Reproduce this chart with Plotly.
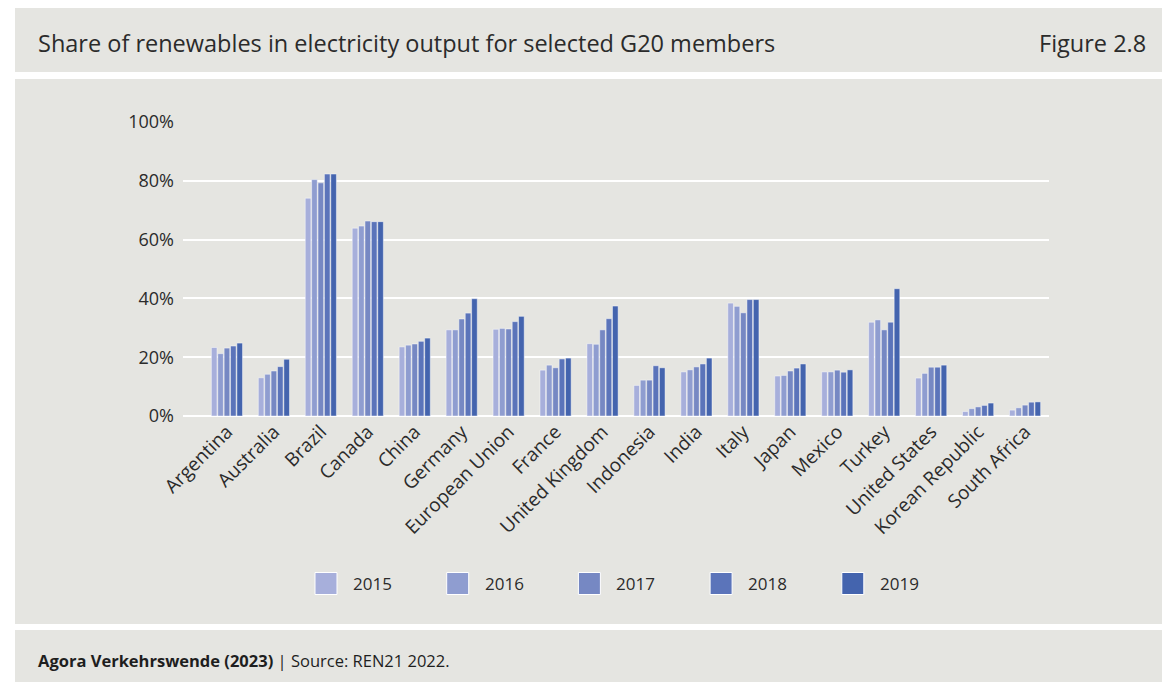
import plotly.graph_objects as go

W, H = 1162, 682

countries = ["Argentina", "Australia", "Brazil", "Canada", "China", "Germany",
             "European Union", "France", "United Kingdom", "Indonesia", "India",
             "Italy", "Japan", "Mexico", "Turkey", "United States",
             "Korean Republic", "South Africa"]

years = ["2015", "2016", "2017", "2018", "2019"]

share_2015 = [23.3, 13.0, 74.1, 63.9, 23.5, 29.3, 29.5, 15.6, 24.6, 10.4, 15.0, 38.4, 13.6, 15.0, 31.9, 12.9, 1.5, 2.0]
share_2016 = [21.2, 14.2, 80.4, 64.6, 24.1, 29.3, 29.8, 17.3, 24.4, 12.2, 15.7, 37.3, 13.8, 15.0, 32.7, 14.5, 2.5, 2.8]
share_2017 = [23.1, 15.3, 79.3, 66.3, 24.5, 33.0, 29.6, 16.4, 29.3, 12.2, 16.7, 35.1, 15.3, 15.6, 29.3, 16.6, 3.1, 3.7]
share_2018 = [23.8, 16.8, 82.3, 66.1, 25.4, 35.0, 32.1, 19.4, 33.1, 17.1, 17.7, 39.6, 16.3, 14.9, 31.9, 16.6, 3.6, 4.7]
share_2019 = [24.8, 19.3, 82.3, 66.1, 26.5, 39.9, 33.9, 19.7, 37.4, 16.4, 19.7, 39.6, 17.7, 15.7, 43.3, 17.3, 4.4, 4.8]

series = [share_2015, share_2016, share_2017, share_2018, share_2019]
colors = ["#a7afdb", "#8f9dd0", "#7688c3", "#5b74ba", "#4464ae"]

y_ticks = [0, 20, 40, 60, 80, 100]
y_labels = ["0%", "20%", "40%", "60%", "80%", "100%"]

title_text = "Share of renewables in electricity output for selected G20 members"
figure_no = "Figure 2.8"
footer_bold = "Agora Verkehrswende (2023)"
footer_rest = " | Source: REN21 2022."

PANEL = "#e5e5e1"
TEXT = "#2b2b2b"
FONT = "Open Sans"


def px(x):
    return x / W


def py(y):
    return 1 - y / H


fig = go.Figure()
for name, vals, col in zip(years, series, colors):
    fig.add_trace(go.Bar(
        x=countries, y=vals, name=name,
        marker=dict(color=col, line=dict(color="rgba(255,255,255,0.45)", width=1)),
        showlegend=False,
    ))

shapes = [
    # header, chart and footer panels
    dict(type="rect", xref="paper", yref="paper", x0=px(15), x1=px(W), y0=py(72), y1=py(8),
         fillcolor=PANEL, line_width=0, layer="below"),
    dict(type="rect", xref="paper", yref="paper", x0=px(15), x1=px(W), y0=py(624), y1=py(79),
         fillcolor=PANEL, line_width=0, layer="below"),
    dict(type="rect", xref="paper", yref="paper", x0=px(15), x1=px(W), y0=py(H), y1=py(630),
         fillcolor=PANEL, line_width=0, layer="below"),
]

annotations = [
    dict(text=title_text, xref="paper", yref="paper", x=px(36), y=py(43),
         xanchor="left", yanchor="middle", showarrow=False,
         font=dict(family=FONT, size=23.5, color=TEXT)),
    dict(text=figure_no, xref="paper", yref="paper", x=px(1148), y=py(43),
         xanchor="right", yanchor="middle", showarrow=False,
         font=dict(family=FONT, size=23.5, color=TEXT)),
    dict(text="<b>" + footer_bold + "</b>" + footer_rest, xref="paper", yref="paper",
         x=px(36), y=py(660), xanchor="left", yanchor="middle", showarrow=False,
         font=dict(family=FONT, size=16.5, color="#1e1e1e")),
]

# legend row: swatch squares with year labels
leg_x0, leg_step, leg_y, sw = 315, 131.7, 583.5, 22
for i, (name, col) in enumerate(zip(years, colors)):
    x0 = leg_x0 + i * leg_step
    shapes.append(dict(type="rect", xref="paper", yref="paper",
                       x0=px(x0), x1=px(x0 + sw), y0=py(leg_y + sw / 2), y1=py(leg_y - sw / 2),
                       fillcolor=col, line=dict(color="white", width=1)))
    annotations.append(dict(text=name, xref="paper", yref="paper", x=px(x0 + 36), y=py(leg_y),
                            xanchor="left", yanchor="middle", showarrow=False,
                            font=dict(family=FONT, size=17, color=TEXT)))

fig.update_layout(
    width=W, height=H,
    margin=dict(l=0, r=0, t=0, b=0, autoexpand=False),
    paper_bgcolor="white",
    plot_bgcolor="rgba(0,0,0,0)",
    barmode="group",
    bargap=0.32,
    bargroupgap=0.12,
    shapes=shapes,
    annotations=annotations,
    xaxis=dict(
        domain=[px(183), px(1049)],
        range=[-0.936, 17.51],
        tickangle=-45,
        automargin=False,
        tickfont=dict(family=FONT, size=19, color=TEXT),
        showgrid=False, zeroline=False, showline=False, ticks="",
    ),
    yaxis=dict(
        domain=[py(416), py(122)],
        range=[0, 100],
        automargin=False,
        tickvals=y_ticks, ticktext=y_labels,
        tickfont=dict(family=FONT, size=18, color=TEXT),
        showgrid=True, gridcolor="white", gridwidth=2,
        zeroline=True, zerolinecolor="white", zerolinewidth=2,
        showline=False, ticks="", ticklabelstandoff=8,
    ),
    font=dict(family=FONT),
)

fig.write_html("out.html")
